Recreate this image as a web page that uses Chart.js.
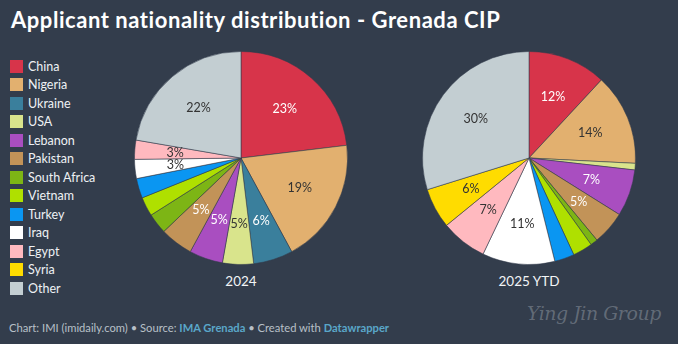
<!DOCTYPE html>
<html>
<head>
<meta charset="utf-8">
<script src="https://cdn.jsdelivr.net/npm/chart.js@4.4.1/dist/chart.umd.min.js"></script>
<style>
  html, body { margin: 0; padding: 0; }
  body {
    width: 678px; height: 344px; overflow: hidden; position: relative;
    background: #333d4c; font-family: Lato, "Noto Sans", sans-serif; color: #eef1f4;
  }
  #title { position: absolute; left: 11px; top: 6px; font-size: 22px; font-weight: 700; color: #fff;
           white-space: nowrap; letter-spacing: 0.55px; }
  #legend { position: absolute; left: 10px; top: 57px; }
  .item { height: 18.5px; display: flex; align-items: center; font-size: 12.5px; color: #eef1f4; }
  .sw { width: 13px; height: 13px; margin-right: 5px; flex: none; }
  canvas { position: absolute; }
  .year { position: absolute; top: 273px; width: 160px; text-align: center; font-size: 13.5px; color: #f2f4f6; }
  #footer { position: absolute; left: 9px; top: 321px; font-size: 11.2px; color: #b8c0c8; white-space: nowrap; }
  #footer b { color: #5aa7c9; font-weight: 700; }
  #mark { position: absolute; left: 527px; top: 302px; font-family: "DejaVu Serif", serif; font-style: italic;
          font-size: 19px; color: rgba(200,206,212,0.32); white-space: nowrap; letter-spacing: -0.5px; }
</style>
</head>
<body>
<div id="title">Applicant nationality distribution - Grenada CIP</div>
<div id="legend"></div>
<canvas id="pie2024" width="214" height="214" style="left:134px;top:51px"></canvas>
<canvas id="pie2025" width="214" height="214" style="left:422px;top:51px"></canvas>
<div class="year" style="left:161px">2024</div>
<div class="year" style="left:449px">2025 YTD</div>
<div id="footer">Chart: IMI (imidaily.com) • Source: <b>IMA Grenada</b> • Created with <b>Datawrapper</b></div>
<div id="mark">Ying Jin Group</div>
<script>
// 國籍分類
const countries = ['China', 'Nigeria', 'Ukraine', 'USA', 'Lebanon', 'Pakistan', 'South Africa',
  'Vietnam', 'Turkey', 'Iraq', 'Egypt', 'Syria', 'Other'];
const colors = ['#d7344a', '#e2b06f', '#3a7f9c', '#d9e48c', '#a94ec0', '#c29358', '#7db515',
  '#afe000', '#0a96f2', '#ffffff', '#ffb9bf', '#ffdc00', '#c3ced2'];
// 白色文字的切片
const lightText = ['China', 'Ukraine', 'Lebanon', 'Pakistan'];

// 百分比（由圖片估計）
const share2024 = [23.1, 19.0, 6.0, 4.7, 5.1, 5.0, 3.1, 2.9, 3.0, 2.9, 2.9, 0, 22.3];
const share2025 = [11.9, 13.9, 0, 1.0, 7.1, 5.1, 1.1, 3.0, 3.0, 11.0, 7.0, 6.1, 29.8];
// 放不下標籤的切片
const hidden2024 = ['South Africa', 'Vietnam', 'Turkey', 'Syria'];
const hidden2025 = ['Ukraine', 'USA', 'South Africa', 'Vietnam', 'Turkey'];

// 圖例
const legend = document.getElementById('legend');
legend.innerHTML = countries.map((c, i) => `
  <div class="item"><span class="sw" style="background:${colors[i]}"></span>${c}</div>
`).join('');

// 百分比標籤
const sliceLabels = {
  id: 'sliceLabels',
  afterDatasetsDraw(chart, args, opts) {
    const { ctx } = chart;
    const meta = chart.getDatasetMeta(0);
    const values = chart.data.datasets[0].data;
    ctx.save();
    ctx.font = '12.5px Lato, "Noto Sans", sans-serif';
    ctx.textAlign = 'center';
    ctx.textBaseline = 'middle';
    meta.data.forEach((arc, i) => {
      const name = countries[i];
      if (!values[i] || opts.hidden.includes(name)) return;
      const mid = (arc.startAngle + arc.endAngle) / 2;
      const r = arc.outerRadius * 0.62;
      ctx.fillStyle = lightText.includes(name) ? '#ffffff' : '#333333';
      ctx.fillText(Math.round(values[i]) + '%', arc.x + Math.cos(mid) * r, arc.y + Math.sin(mid) * r);
    });
    ctx.restore();
  }
};

function makePie(id, values, hidden) {
  return new Chart(document.getElementById(id), {
    type: 'pie',
    data: {
      labels: countries,
      datasets: [{
        data: values,
        backgroundColor: colors,
        borderColor: 'rgba(51,61,76,0.55)',
        borderWidth: 1,
        hoverBorderWidth: 1
      }]
    },
    options: {
      responsive: false,
      animation: false,
      events: [],
      layout: { padding: 0 },
      plugins: {
        legend: { display: false },
        tooltip: { enabled: false },
        sliceLabels: { hidden }
      }
    },
    plugins: [sliceLabels]
  });
}

makePie('pie2024', share2024, hidden2024);
makePie('pie2025', share2025, hidden2025);
</script>
</body>
</html>
